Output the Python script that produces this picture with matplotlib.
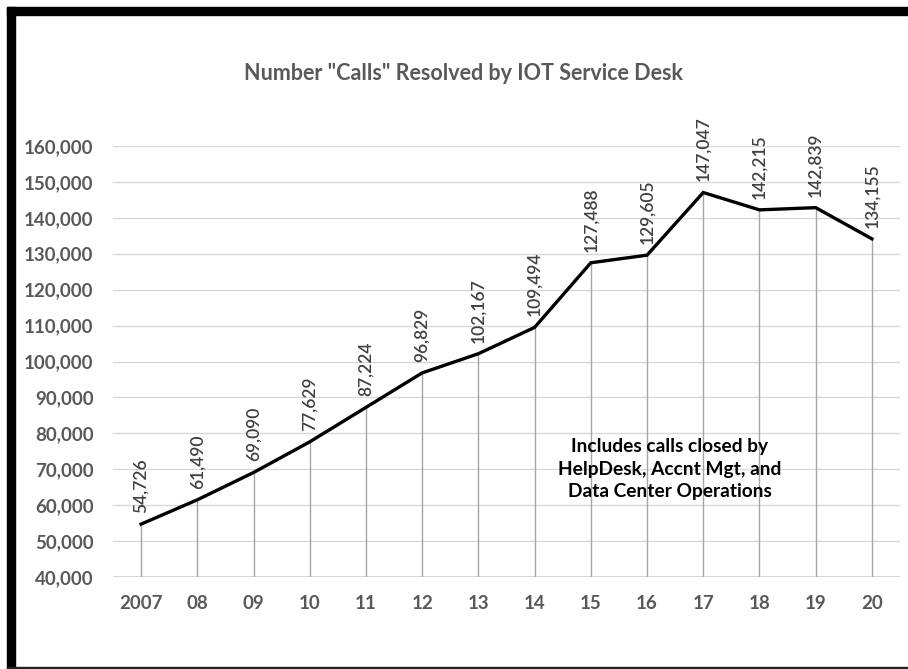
import matplotlib.pyplot as plt
from matplotlib.patches import Rectangle

# data
years = ["2007", "08", "09", "10", "11", "12", "13", "14", "15", "16", "17", "18", "19", "20"]
calls = [54726, 61490, 69090, 77629, 87224, 96829, 102167, 109494, 127488, 129605, 147047, 142215, 142839, 134155]
yticks = list(range(40000, 160001, 10000))

plt.rcParams["font.family"] = ["Lato", "DejaVu Sans"]

W, H = 908, 669
fig = plt.figure(figsize=(W / 100, H / 100), dpi=100)
ax = fig.add_axes([113 / W, 1 - 577 / H, (900 - 113) / W, (577 - 146) / H])

x = list(range(len(years)))

# drop lines
ax.vlines(x, 40000, calls, color="#a6a6a6", lw=1, zorder=1)
ax.plot(x, calls, color="black", lw=2.4, zorder=3, solid_joinstyle="miter")

# data labels
for xi, v in zip(x, calls):
    ax.annotate(f"{v:,}", (xi, v), xytext=(0, 8), textcoords="offset points",
                rotation=90, ha="center", va="bottom", fontsize=12.5,
                color="#404040", fontweight="semibold")

ax.set_xlim(-0.5, len(years) - 0.5)
ax.set_ylim(40000, 160000)
ax.set_yticks(yticks)
ax.set_yticklabels([f"{t:,}" for t in yticks])
ax.set_xticks(x)
ax.set_xticklabels(years)
ax.tick_params(length=0, labelsize=13.5, labelcolor="#595959", pad=13)
ax.tick_params(axis="y", pad=14)
for lab in ax.get_xticklabels() + ax.get_yticklabels():
    lab.set_fontweight("bold")
ax.grid(axis="y", color="#d9d9d9", lw=1)
ax.set_axisbelow(True)
for s in ax.spines.values():
    s.set_visible(False)
ax.axhline(40000, color="#d0d0d0", lw=1.2, zorder=0)

fig.text(464 / W, 1 - 73 / H, 'Number "Calls" Resolved by IOT Service Desk',
         ha="center", va="center", fontsize=15.5, fontweight="bold", color="#595959")

fig.text(670 / W, 1 - 469 / H,
         "Includes calls closed by\nHelpDesk, Accnt Mgt, and\nData Center Operations",
         ha="center", va="center", fontsize=13.8, fontweight="bold", color="black",
         linespacing=1.36)

# frame around the picture
fig.patches.append(Rectangle((7 / W, 1 - 669 / H), 8 / W, 662 / H, transform=fig.transFigure,
                             color="black", zorder=10))
fig.patches.append(Rectangle((7 / W, 1 - 15 / H), 901 / W, 8 / H, transform=fig.transFigure,
                             color="black", zorder=10))
fig.patches.append(Rectangle((7 / W, 0), 901 / W, 2 / H, transform=fig.transFigure,
                             color="#222222", zorder=10))

fig.savefig("out.png", dpi=100)
